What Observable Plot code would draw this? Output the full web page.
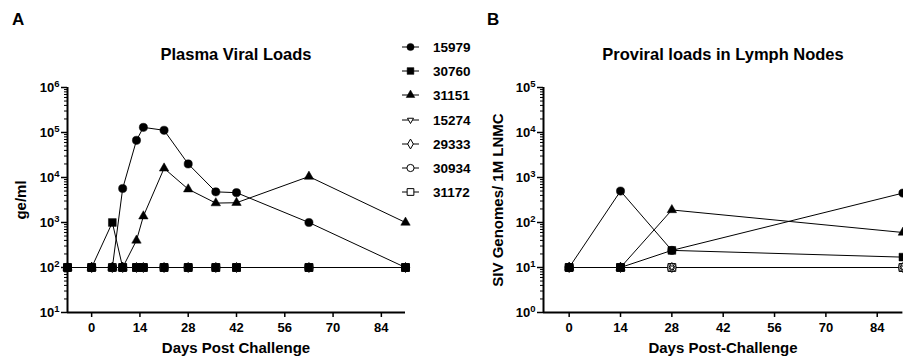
<!DOCTYPE html>
<html>
<head>
<meta charset="utf-8">
<script src="https://cdn.jsdelivr.net/npm/d3@7"></script>
<script src="https://cdn.jsdelivr.net/npm/@observablehq/plot@0.6"></script>
<style>
  body { margin: 0; background: #fff; }
  #root { position: relative; width: 903px; height: 360px; overflow: hidden; font-family: "Liberation Sans", Arial, sans-serif; font-weight: bold; color: #000; }
  .abs { position: absolute; white-space: nowrap; }
  .panel { position: absolute; top: 0; }
  .lab { font-size: 17px; }
  .ttl { font-size: 16.5px; transform: translateX(-50%); }
  .xl { font-size: 15px; transform: translateX(-50%); }
  .yl { font-size: 15px; transform: translate(-50%, -50%) rotate(-90deg); }
  .leg { font-size: 13.5px; display: flex; align-items: center; height: 16px; }
  .leg svg { margin-right: 14px; }
</style>
</head>
<body>
<div id="root"></div>
<script>
// ---------- data ----------
const seriesNames = ["15979", "30760", "31151", "15274", "29333", "30934", "31172"];
const seriesSymbols = ["circle", "square", "triangle", "triangleDown", "diamond", "circle", "square"];
const seriesFilled = [true, true, true, false, false, false, false];

// Panel A: Plasma Viral Loads (ge/ml)
const daysA = [-7, 0, 6, 9, 13, 15, 21, 28, 36, 42, 63, 91];
const a15979 = [100, 100, 100, 5700, 67000, 130000, 112000, 20000, 4800, 4600, 1000, 100];
const a30760 = [100, 100, 1000, 100, 100, 100, 100, 100, 100, 100, 100, 100];
const a31151 = [100, 100, 100, 100, 400, 1380, 16000, 5500, 2700, 2750, 10500, 1000];
const a15274 = [100, 100, 100, 100, 100, 100, 100, 100, 100, 100, 100, 100];
const a29333 = [100, 100, 100, 100, 100, 100, 100, 100, 100, 100, 100, 100];
const a30934 = [100, 100, 100, 100, 100, 100, 100, 100, 100, 100, 100, 100];
const a31172 = [100, 100, 100, 100, 100, 100, 100, 100, 100, 100, 100, 100];

// Panel B: Proviral loads in Lymph Nodes (SIV genomes / 1M LNMC)
const daysB = [0, 14, 28, 91];
const b15979 = [10, 500, 24, 450];
const b30760 = [10, 10, 24, 17];
const b31151 = [10, 10, 190, 60];
const b15274 = [10, 10, 10, 10];
const b29333 = [10, 10, 10, 10];
const b30934 = [10, 10, 10, 10];
const b31172 = [10, 10, 10, 10];

const xTicks = [0, 14, 28, 42, 56, 70, 84];
const yTicksA = [10, 100, 1000, 10000, 100000, 1000000];
const yTicksB = [1, 10, 100, 1000, 10000, 100000];

const valuesA = [a15979, a30760, a31151, a15274, a29333, a30934, a31172];
const valuesB = [b15979, b30760, b31151, b15274, b29333, b30934, b31172];

// ---------- helpers ----------
const triangleDown = {
  draw(ctx, size) {
    const s = Math.sqrt(size / (3 * Math.sqrt(3) / 4));
    const h = s * Math.sqrt(3) / 2;
    ctx.moveTo(0, h * 2 / 3);
    ctx.lineTo(s / 2, -h / 3);
    ctx.lineTo(-s / 2, -h / 3);
    ctx.closePath();
  }
};
function symbolOf(name) {
  if (name === "triangleDown") return triangleDown;
  if (name === "diamond") return d3.symbolDiamond;
  return name;
}
function d3SymbolOf(name) {
  return { circle: d3.symbolCircle, square: d3.symbolSquare, triangle: d3.symbolTriangle,
           triangleDown: triangleDown, diamond: d3.symbolDiamond }[name];
}
const rOf = { circle: 4.1, square: 4.4, triangle: 3.5, triangleDown: 3.3, diamond: 3.0 };
const legR = { circle: 3.6, square: 3.8, triangle: 3.2, triangleDown: 3.9, diamond: 3.0 };

function minorTicks(domain) {
  const out = [];
  for (let p = Math.log10(domain[0]); p < Math.log10(domain[1]); p++) {
    for (let k = 2; k <= 9; k++) out.push(k * Math.pow(10, p));
  }
  return out;
}

function makePanel(days, values, yDomain, yTicks, opts) {
  const rows = [];
  seriesNames.forEach((n, i) => values[i].forEach((v, j) => rows.push({ name: n, day: days[j], value: v })));
  const order = [6, 5, 4, 3, 0, 2, 1];
  const dotMarks = order.map(i => Plot.dot(rows.filter(r => r.name === seriesNames[i]), {
    x: "day", y: "value",
    symbol: symbolOf(seriesSymbols[i]),
    r: rOf[seriesSymbols[i]],
    fill: seriesFilled[i] ? "black" : "white",
    stroke: "black", strokeWidth: seriesFilled[i] ? 0.5 : 1
  }));
  const lineMarks = order.map(i => Plot.line(rows.filter(r => r.name === seriesNames[i]), {
    x: "day", y: "value", stroke: "black", strokeWidth: 1
  }));
  const svg = Plot.plot({
    width: opts.width, height: 360,
    marginLeft: opts.marginLeft, marginRight: opts.marginRight,
    marginTop: 87, marginBottom: 48,
    style: { fontFamily: "'Liberation Sans', Arial, sans-serif", fontWeight: "bold", fontSize: "12px", color: "black", background: "transparent", overflow: "visible" },
    x: { domain: [-7, 91] },
    y: { type: "log", domain: yDomain },
    marks: [
      Plot.axisY({ ticks: minorTicks(yDomain), tickSize: 3, tickFormat: () => "", label: null, strokeWidth: 1 }),
      Plot.axisY({ ticks: yTicks, tickSize: 6, tickPadding: 2, tickFormat: d => "10^" + Math.round(Math.log10(d)), label: null, strokeWidth: 1.5, fontSize: 13 }),
      Plot.axisX({ ticks: xTicks, tickSize: 5, tickPadding: 5, label: null, strokeWidth: 1.5, fontSize: 13 }),
      ...lineMarks,
      ...dotMarks,
      Plot.ruleX([-7], { stroke: "black", strokeWidth: 2 }),
      Plot.ruleY([yDomain[0]], { stroke: "black", strokeWidth: 2 })
    ]
  });
  d3.select(svg).selectAll("[aria-label='y-axis tick label'] text").each(function () {
    const t = this.textContent;
    if (!t.includes("^")) return;
    const [base, exp] = t.split("^");
    this.textContent = base;
    d3.select(this).append("tspan").attr("dy", "-0.45em").attr("font-size", "9.5px").text(exp);
  });
  return svg;
}

const root = document.getElementById("root");
function addDiv(cls, text, left, top) {
  const d = document.createElement("div");
  d.className = "abs " + cls;
  d.textContent = text;
  d.style.left = left + "px";
  d.style.top = top + "px";
  root.appendChild(d);
  return d;
}

const svgA = makePanel(daysA, valuesA, [10, 1e6], yTicksA, { width: 420, marginLeft: 67, marginRight: 15 });
svgA.classList.add("panel"); svgA.style.left = "0px";
root.appendChild(svgA);

const svgB = makePanel(daysB, valuesB, [1, 1e5], yTicksB, { width: 470, marginLeft: 93, marginRight: 17.6 });
svgB.classList.add("panel"); svgB.style.left = "450px";
root.appendChild(svgB);

addDiv("lab", "A", 12, 10);
addDiv("lab", "B", 487, 10);
addDiv("ttl", "Plasma Viral Loads", 236, 45);
addDiv("ttl", "Proviral loads in Lymph Nodes", 723, 45);
addDiv("xl", "Days Post Challenge", 236, 339);
addDiv("xl", "Days Post-Challenge", 723, 339);
addDiv("yl", "ge/ml", 20, 200);
addDiv("yl", "SIV Genomes/ 1M LNMC", 497, 200);

const legTops = [47, 71, 95, 120, 144, 168, 192];
seriesNames.forEach((n, i) => {
  const d = document.createElement("div");
  d.className = "abs leg";
  d.style.left = "402px";
  d.style.top = (legTops[i] - 8) + "px";
  const s = d3.create("svg").attr("width", 17).attr("height", 16);
  s.append("line").attr("x1", 0).attr("x2", 17).attr("y1", 8).attr("y2", 8).attr("stroke", "black").attr("stroke-width", 1);
  const r = legR[seriesSymbols[i]];
  s.append("path")
    .attr("transform", "translate(8.5,8)")
    .attr("d", d3.symbol(d3SymbolOf(seriesSymbols[i]), Math.PI * r * r)())
    .attr("fill", seriesFilled[i] ? "black" : "white")
    .attr("stroke", "black").attr("stroke-width", seriesFilled[i] ? 0.5 : 1);
  d.appendChild(s.node());
  const t = document.createElement("span");
  t.textContent = n;
  d.appendChild(t);
  root.appendChild(d);
});
</script>
</body>
</html>
